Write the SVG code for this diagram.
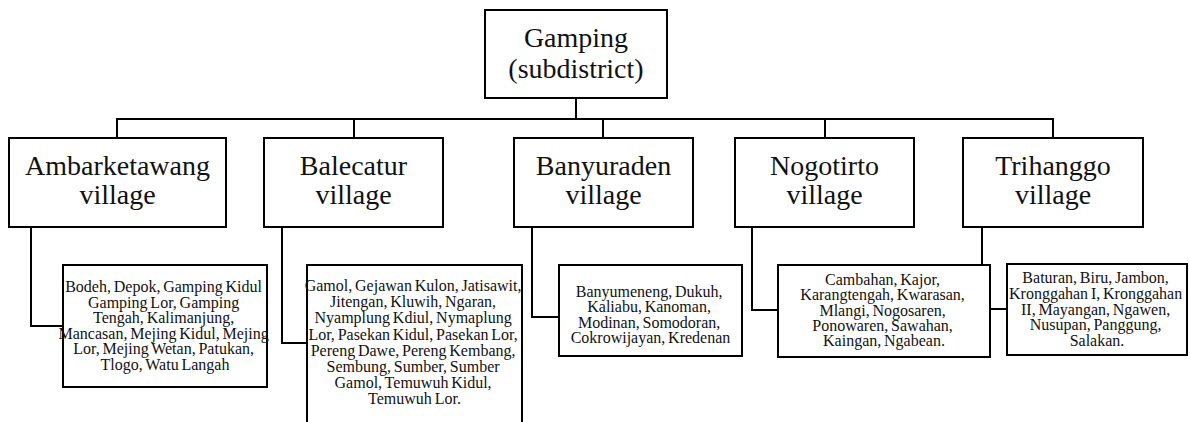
<svg xmlns="http://www.w3.org/2000/svg" width="1190" height="422" viewBox="0 0 1190 422">
<style>
.box{fill:#fff;stroke:#000;stroke-width:2}
.con{fill:none;stroke:#000;stroke-width:2}
.lbl{font-family:"Liberation Serif","Times New Roman",serif;font-size:28px;fill:#111;text-anchor:middle}
.sm{font-family:"Liberation Serif","Times New Roman",serif;font-size:16px;fill:#111;text-anchor:middle;word-spacing:-1.2px}
</style>
<rect width="1190" height="422" fill="#fff"/>
<g id="connectors">
<path class="con" d="M576,98 V119 M117,138 V119 H1053 V138 M354,119 V138 M603,119 V138 M825,119 V138"/>
<path class="con" d="M31,227 V326 H63"/>
<path class="con" d="M282,227 V343 H307"/>
<path class="con" d="M532,227 V317 H559"/>
<path class="con" d="M752,227 V310 H778"/>
<path class="con" d="M982,227 V309 H1007"/>
</g>
<g id="root">
<rect class="box" x="485" y="10" width="182" height="88"/>
<text class="lbl" x="576" y="47">Gamping</text>
<text class="lbl" x="576" y="78">(subdistrict)</text>
</g>
<g id="ambarketawang">
<rect class="box" x="9" y="138" width="217" height="89"/>
<text class="lbl" x="117.5" y="175">Ambarketawang</text>
<text class="lbl" x="117.5" y="204">village</text>
</g>
<g id="balecatur">
<rect class="box" x="264" y="138" width="179" height="89"/>
<text class="lbl" x="353.5" y="175">Balecatur</text>
<text class="lbl" x="353.5" y="204">village</text>
</g>
<g id="banyuraden">
<rect class="box" x="514" y="138" width="179" height="89"/>
<text class="lbl" x="603.5" y="175">Banyuraden</text>
<text class="lbl" x="603.5" y="204">village</text>
</g>
<g id="nogotirto">
<rect class="box" x="735" y="138" width="179" height="89"/>
<text class="lbl" x="824.5" y="175">Nogotirto</text>
<text class="lbl" x="824.5" y="204">village</text>
</g>
<g id="trihanggo">
<rect class="box" x="963" y="138" width="180" height="89"/>
<text class="lbl" x="1053" y="175">Trihanggo</text>
<text class="lbl" x="1053" y="204">village</text>
</g>
<g id="ambarketawang-hamlets">
<rect class="box" x="63" y="265" width="204" height="122"/>
<text class="sm" x="165">
<tspan x="165" y="292">Bodeh, Depok, Gamping Kidul</tspan>
<tspan x="165" y="307.6">Gamping Lor, Gamping</tspan>
<tspan x="165" y="323.2">Tengah, Kalimanjung,</tspan>
<tspan x="165" y="338.8">Mancasan, Mejing Kidul, Mejing</tspan>
<tspan x="165" y="354.4">Lor, Mejing Wetan, Patukan,</tspan>
<tspan x="165" y="370">Tlogo, Watu Langah</tspan>
</text>
</g>
<g id="balecatur-hamlets">
<rect class="box" x="307" y="265" width="215" height="162"/>
<text class="sm" x="414.5">
<tspan x="414.5" y="291">Gamol, Gejawan Kulon, Jatisawit,</tspan>
<tspan x="414.5" y="307.2">Jitengan, Kluwih, Ngaran,</tspan>
<tspan x="414.5" y="323.4">Nyamplung Kdiul, Nymaplung</tspan>
<tspan x="414.5" y="339.6">Lor, Pasekan Kidul, Pasekan Lor,</tspan>
<tspan x="414.5" y="355.8">Pereng Dawe, Pereng Kembang,</tspan>
<tspan x="414.5" y="372">Sembung, Sumber, Sumber</tspan>
<tspan x="414.5" y="388.2">Gamol, Temuwuh Kidul,</tspan>
<tspan x="414.5" y="404.4">Temuwuh Lor.</tspan>
</text>
</g>
<g id="banyuraden-hamlets">
<rect class="box" x="559" y="265" width="183" height="91"/>
<text class="sm" x="650.5">
<tspan x="650.5" y="297">Banyumeneng, Dukuh,</tspan>
<tspan x="650.5" y="312.3">Kaliabu, Kanoman,</tspan>
<tspan x="650.5" y="327.6">Modinan, Somodoran,</tspan>
<tspan x="650.5" y="342.9">Cokrowijayan, Kredenan</tspan>
</text>
</g>
<g id="nogotirto-hamlets">
<rect class="box" x="778" y="265" width="212" height="92"/>
<text class="sm" x="884">
<tspan x="884" y="285">Cambahan, Kajor,</tspan>
<tspan x="884" y="300.3">Karangtengah, Kwarasan,</tspan>
<tspan x="884" y="315.6">Mlangi, Nogosaren,</tspan>
<tspan x="884" y="330.9">Ponowaren, Sawahan,</tspan>
<tspan x="884" y="346.2">Kaingan, Ngabean.</tspan>
</text>
</g>
<g id="trihanggo-hamlets">
<rect class="box" x="1007" y="264" width="180" height="91"/>
<text class="sm" x="1097">
<tspan x="1097" y="283">Baturan, Biru, Jambon,</tspan>
<tspan x="1097" y="298.8">Kronggahan I, Kronggahan</tspan>
<tspan x="1097" y="314.6">II, Mayangan, Ngawen,</tspan>
<tspan x="1097" y="330.4">Nusupan, Panggung,</tspan>
<tspan x="1097" y="346.2">Salakan.</tspan>
</text>
</g>
</svg>
